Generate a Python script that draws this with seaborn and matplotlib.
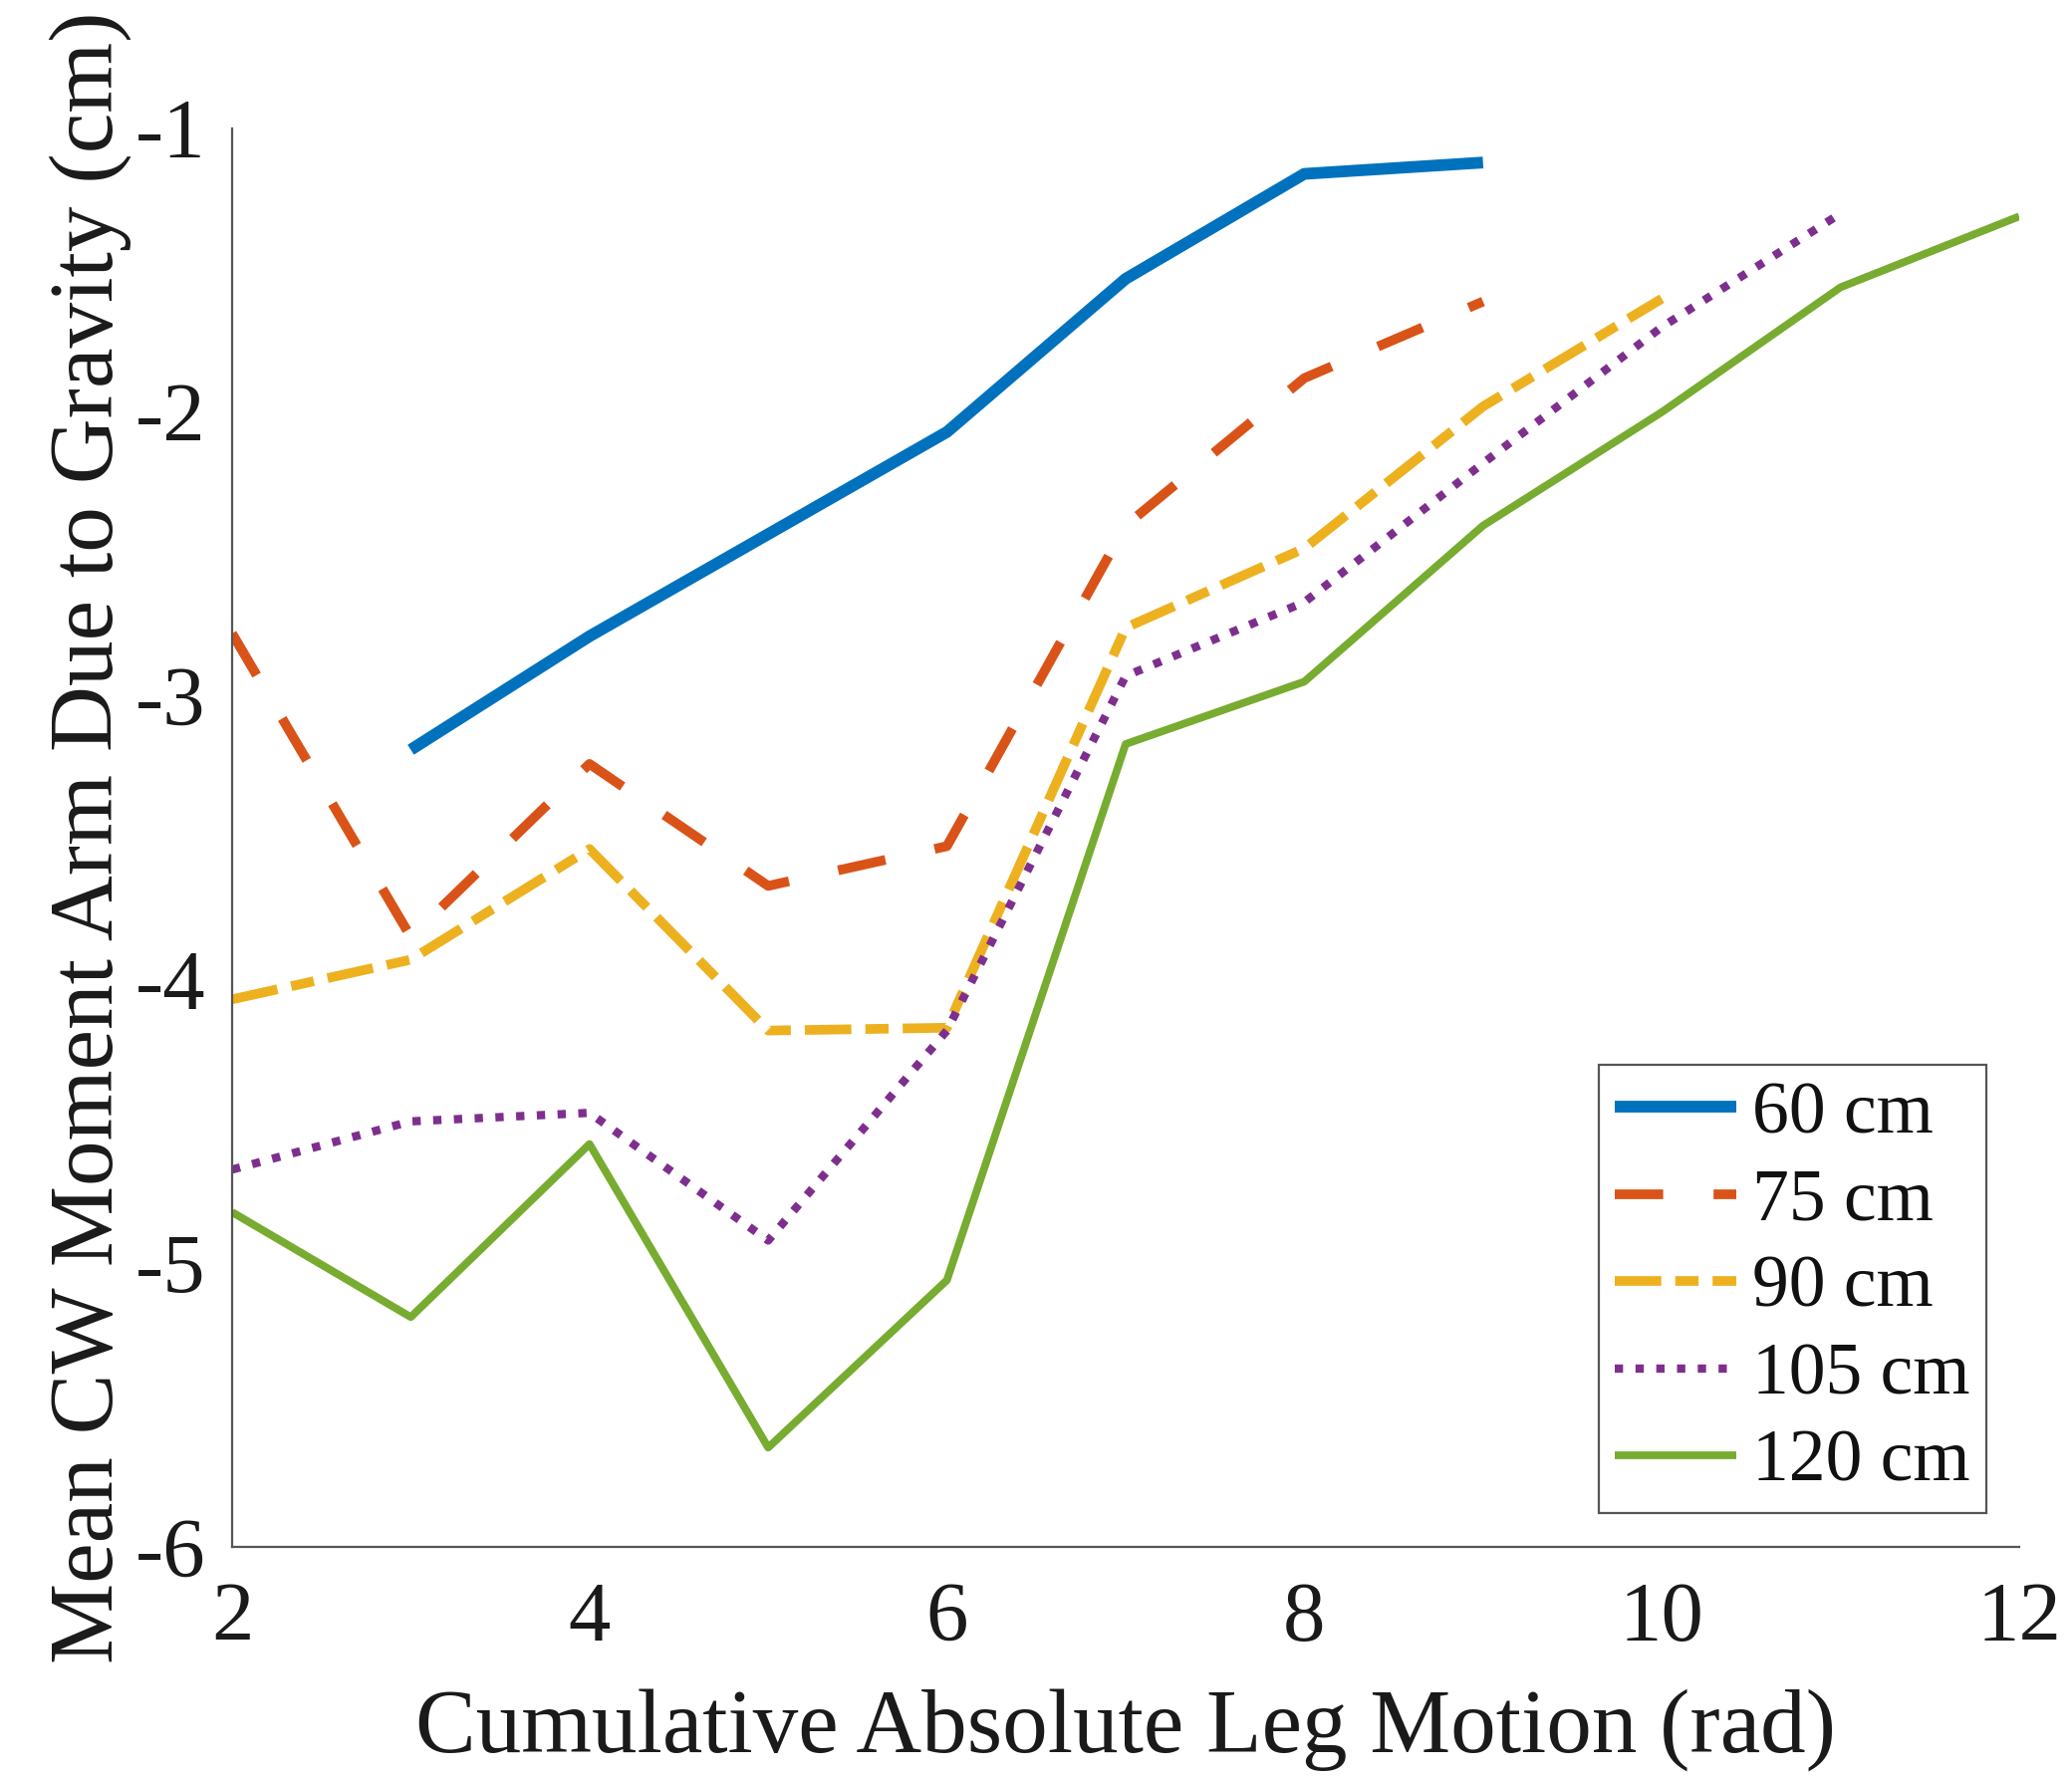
import numpy as np
import pandas as pd
import matplotlib
matplotlib.use("Agg")
import matplotlib.pyplot as plt
import seaborn as sns

# ---- data ----
x_60 = [3, 4, 5, 6, 7, 8, 9]
y_60 = [-3.19, -2.79, -2.43, -2.07, -1.53, -1.16, -1.12]

x_75 = [2, 3, 4, 5, 6, 7, 8, 9]
y_75 = [-2.78, -3.85, -3.24, -3.67, -3.53, -2.40, -1.88, -1.61]

x_90 = [2, 3, 4, 5, 6, 7, 8, 9, 10]
y_90 = [-4.07, -3.93, -3.54, -4.18, -4.17, -2.76, -2.48, -1.98, -1.60]

x_105 = [2, 3, 4, 5, 6, 7, 8, 9, 10, 11]
y_105 = [-4.67, -4.50, -4.47, -4.92, -4.18, -2.93, -2.67, -2.18, -1.70, -1.30]

x_120 = [2, 3, 4, 5, 6, 7, 8, 9, 10, 11, 12]
y_120 = [-4.82, -5.19, -4.58, -5.65, -5.06, -3.17, -2.95, -2.40, -2.00, -1.56, -1.31]

labels = ["60 cm", "75 cm", "90 cm", "105 cm", "120 cm"]
x_ticks = [2, 4, 6, 8, 10, 12]
y_ticks = [-6, -5, -4, -3, -2, -1]
x_label = "Cumulative Absolute Leg Motion (rad)"
y_label = "Mean CW Moment Arm Due to Gravity (cm)"

# ---- style ----
sns.set_theme(style="white")
plt.rcParams["font.family"] = ["Liberation Serif", "DejaVu Serif"]
plt.rcParams["axes.unicode_minus"] = False

colors = ["#0072BD", "#D95319", "#EDB120", "#7E2F8E", "#77AC30"]
widths = [8.5, 7.0, 7.0, 6.0, 5.6]
styles = ["-", (0, (5.0, 5.2)), (0, (4.8, 1.45, 2.4, 1.45)), (0, (1.0, 1.5)), "-"]

fig = plt.figure(figsize=(20.8, 17.84), dpi=100)
ax = fig.add_axes([0.112, 0.1295, 0.8625, 0.7982])

series = [(x_60, y_60), (x_75, y_75), (x_90, y_90), (x_105, y_105), (x_120, y_120)]
for (xs, ys), lab, c, lw, ls in zip(series, labels, colors, widths, styles):
    df = pd.DataFrame({"x": xs, "y": ys})
    sns.lineplot(data=df, x="x", y="y", color=c, linewidth=lw, linestyle=ls,
                 label=lab, ax=ax, solid_capstyle="butt", dash_capstyle="butt",
                 solid_joinstyle="round")

ax.set_xlim(2, 12)
ax.set_ylim(-6, -1)
ax.set_xticks(x_ticks)
ax.set_yticks(y_ticks)
ax.set_xticklabels([str(v) for v in x_ticks])
ax.set_yticklabels([str(v) for v in y_ticks])

for s in ["top", "right"]:
    ax.spines[s].set_visible(False)
for s in ["left", "bottom"]:
    ax.spines[s].set_color("#555555")
    ax.spines[s].set_linewidth(1.6)

ax.tick_params(axis="both", direction="in", length=13, width=1.4, color="#555555",
               labelsize=61, labelcolor="#1a1a1a")
ax.tick_params(axis="y", pad=19)
ax.tick_params(axis="x", pad=25)

ax.set_xlabel(x_label, fontsize=65.5, color="#1a1a1a")
ax.set_ylabel(y_label, fontsize=65.7, color="#1a1a1a")
ax.xaxis.set_label_coords(0.5, -0.1)
ax.yaxis.set_label_coords(-0.056, 0.5)

leg = ax.legend(loc="lower right", bbox_to_anchor=(0.9816, 0.0239), borderaxespad=0,
                fontsize=53, frameon=True, fancybox=False, framealpha=1,
                edgecolor="#555555", handlelength=1.66, handletextpad=0.22,
                labelspacing=0.27, borderpad=0.22)
leg.get_frame().set_linewidth(1.6)
for t in leg.get_texts():
    t.set_color("#111111")

ax.grid(False)
fig.savefig("out.png", dpi=100, facecolor="white")
